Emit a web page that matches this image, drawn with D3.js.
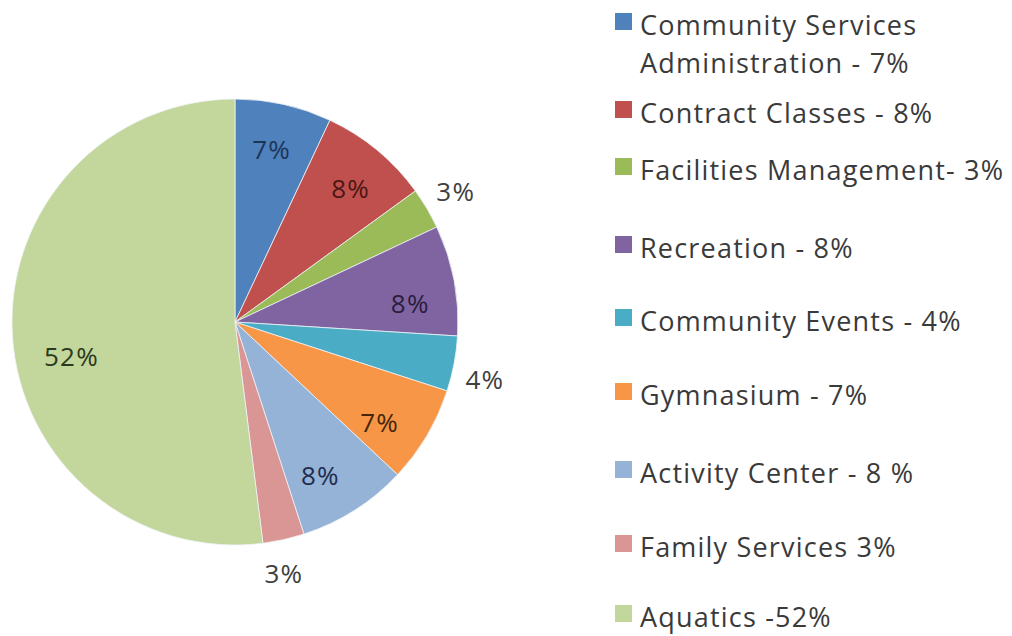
<!DOCTYPE html>
<html>
<head>
<meta charset="utf-8">
<script src="https://cdn.jsdelivr.net/npm/d3@7"></script>
<style>
  html, body { margin: 0; padding: 0; background: #fff; }
  svg { display: block; }
</style>
</head>
<body>
<svg id="chart" width="1012" height="636"></svg>
<script>
// Budget share by division
const categories = [
  "Community Services Administration",
  "Contract Classes",
  "Facilities Management",
  "Recreation",
  "Community Events",
  "Gymnasium",
  "Activity Center",
  "Family Services",
  "Aquatics"
];
const shares = [7, 8, 3, 8, 4, 7, 8, 3, 52];
const sliceLabels = ["7%", "8%", "3%", "8%", "4%", "7%", "8%", "3%", "52%"];
const legendLines = [
  ["Community Services", "Administration - 7%"],
  ["Contract Classes - 8%"],
  ["Facilities Management- 3%"],
  ["Recreation - 8%"],
  ["Community Events - 4%"],
  ["Gymnasium - 7%"],
  ["Activity Center -  8 %"],
  ["Family Services 3%"],
  ["Aquatics -52%"]
];
const sliceColors = ["#4F81BD", "#C0504D", "#9BBB59", "#8064A2", "#4BACC6",
                     "#F79646", "#95B3D7", "#D99694", "#C3D69B"];
const labelColors = ["#1d3557", "#4a1715", "#404040", "#2a1d3d", "#404040",
                     "#45260b", "#1e2d4d", "#404040", "#2c3a1c"];
// labels of thin slices sit outside the pie
const outside = [false, false, true, false, true, false, false, true, false];
// small angular nudges (degrees) for the label positions
const labelNudge = [-0.6, 1.4, 0, 4.8, 2.2, 4.2, 3.4, 1.6, -8.4];

// legend baselines of each entry's first line
const legendBaselines = [35, 123, 180, 258, 331, 405, 483, 557, 627];

const svg = d3.select("#chart");
const cx = 235, cy = 322, r = 223;
const font = "'Open Sans', 'DejaVu Sans', sans-serif";

const pie = d3.pie().sort(null).value(d => d)
  .startAngle(0).endAngle(2 * Math.PI);
const arcs = pie(shares);
const arc = d3.arc().innerRadius(0).outerRadius(r);

const g = svg.append("g").attr("transform", `translate(${cx},${cy})`);

g.selectAll("path.slice")
  .data(arcs)
  .join("path")
  .attr("class", "slice")
  .attr("d", arc)
  .attr("fill", (d, i) => sliceColors[i])
  .attr("stroke", "#eef2f6")
  .attr("stroke-width", 0.8);

g.selectAll("text.pct")
  .data(arcs)
  .join("text")
  .attr("class", "pct")
  .attr("transform", (d, i) => {
    const a = (d.startAngle + d.endAngle) / 2 + labelNudge[i] * Math.PI / 180;
    const rr = outside[i] ? r * 1.15 : (i === 8 ? r * 0.75 : r * 0.79);
    return `translate(${Math.sin(a) * rr},${-Math.cos(a) * rr})`;
  })
  .attr("text-anchor", "middle")
  .attr("dy", "0.36em")
  .attr("font-family", font)
  .attr("font-size", 26)
  .attr("letter-spacing", 1.2)
  .attr("fill", (d, i) => labelColors[i])
  .text((d, i) => sliceLabels[i]);

// legend
const legend = svg.append("g");
const lx = 615, tx = 640, lineGap = 38;
categories.forEach((c, i) => {
  const y = legendBaselines[i];
  legend.append("rect")
    .attr("x", lx).attr("y", y - 22)
    .attr("width", 17).attr("height", 17)
    .attr("fill", sliceColors[i]);
  const t = legend.append("text")
    .attr("x", tx).attr("y", y)
    .attr("font-family", font)
    .attr("font-size", 27)
    .attr("letter-spacing", 1.2)
    .attr("fill", "#3a3a3a");
  legendLines[i].forEach((ln, j) => {
    t.append("tspan").attr("x", tx).attr("y", y + j * lineGap).text(ln);
  });
});
</script>
</body>
</html>
